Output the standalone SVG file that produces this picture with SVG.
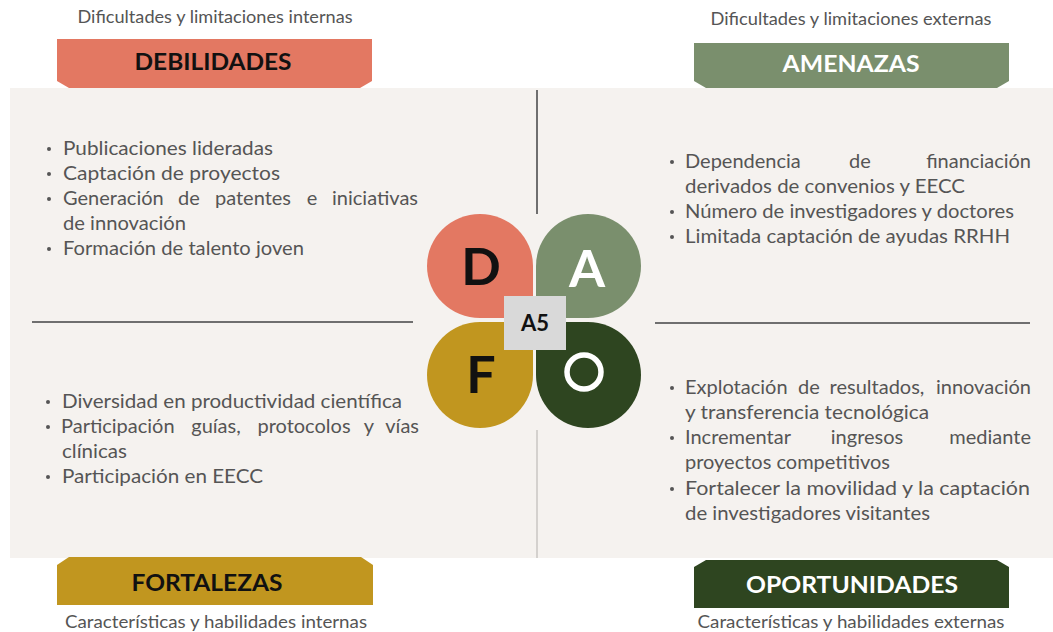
<svg xmlns="http://www.w3.org/2000/svg" width="1053" height="632" viewBox="0 0 1053 632">
<style>
.sub{font-family:Lato,"Liberation Sans",sans-serif;font-size:17px;fill:#555;text-anchor:middle}
.hdr{font-family:Lato,"Liberation Sans",sans-serif;font-size:23px;font-weight:700;text-anchor:middle}
.body{font-family:Lato,"Liberation Sans",sans-serif;font-size:20px;fill:#555}
.mid{text-anchor:middle}
.end{text-anchor:end}
.letter{font-family:Lato,"Liberation Sans",sans-serif;font-size:52px;font-weight:700;text-anchor:middle}
.div{stroke:#6f6f6f;stroke-width:2}
.dot{fill:#555}
</style>
<rect x="0" y="0" width="1053" height="632" fill="#ffffff"/>
<rect x="10" y="88" width="1043" height="470" fill="#f5f2ef"/>

<g id="connectors">
  <line class="div" x1="537" y1="90" x2="537" y2="214"/>
  <line x1="537" y1="430" x2="537" y2="558" stroke="#c9c6c3" stroke-width="1.5"/>
  <line class="div" x1="32" y1="322" x2="413" y2="322"/>
  <line class="div" x1="655" y1="323" x2="1030" y2="323"/>
</g>

<g id="debilidades">
  <text class="sub" x="215" y="23" textLength="275" lengthAdjust="spacingAndGlyphs">Dificultades y limitaciones internas</text>
  <path d="M57 39 L372 39 L372 81 L360 88 L69 88 L57 81 Z" fill="#e37862"/>
  <text class="hdr" x="213" y="70" fill="#111" textLength="157" lengthAdjust="spacingAndGlyphs">DEBILIDADES</text>
  <circle class="dot" cx="49" cy="149" r="2"/>
  <text class="body" x="63" y="155" textLength="210" lengthAdjust="spacingAndGlyphs">Publicaciones lideradas</text>
  <circle class="dot" cx="49" cy="174" r="2"/>
  <text class="body" x="63" y="180" textLength="217" lengthAdjust="spacingAndGlyphs">Captación de proyectos</text>
  <circle class="dot" cx="49" cy="199" r="2"/>
  <text class="body" x="63" y="205">Generación</text>
  <text class="body mid" x="189" y="205">de</text>
  <text class="body mid" x="253" y="205">patentes</text>
  <text class="body mid" x="312" y="205">e</text>
  <text class="body end" x="418" y="205">iniciativas</text>
  <text class="body" x="63" y="230" textLength="123" lengthAdjust="spacingAndGlyphs">de innovación</text>
  <circle class="dot" cx="49" cy="249" r="2"/>
  <text class="body" x="63" y="255" textLength="241" lengthAdjust="spacingAndGlyphs">Formación de talento joven</text>
</g>

<g id="amenazas">
  <text class="sub" x="851" y="25" textLength="281" lengthAdjust="spacingAndGlyphs">Dificultades y limitaciones externas</text>
  <path d="M694 43 L1009 43 L1009 81 L997 88 L706 88 L694 81 Z" fill="#7a8f6d"/>
  <text class="hdr" x="851" y="72" fill="#ffffff" textLength="137" lengthAdjust="spacingAndGlyphs">AMENAZAS</text>
  <circle class="dot" cx="672" cy="162" r="2"/>
  <text class="body" x="685" y="168">Dependencia</text>
  <text class="body mid" x="860" y="168">de</text>
  <text class="body end" x="1031" y="168">financiación</text>
  <text class="body" x="685" y="193" textLength="280" lengthAdjust="spacingAndGlyphs">derivados de convenios y EECC</text>
  <circle class="dot" cx="672" cy="212" r="2"/>
  <text class="body" x="685" y="218" textLength="329" lengthAdjust="spacingAndGlyphs">Número de investigadores y doctores</text>
  <circle class="dot" cx="672" cy="237" r="2"/>
  <text class="body" x="685" y="243" textLength="325" lengthAdjust="spacingAndGlyphs">Limitada captación de ayudas RRHH</text>
</g>

<g id="fortalezas">
  <path d="M57 565 L69 557 L361 557 L373 565 L373 605 L57 605 Z" fill="#c1961f"/>
  <text class="hdr" x="207" y="591" fill="#111" textLength="151" lengthAdjust="spacingAndGlyphs">FORTALEZAS</text>
  <text class="sub" x="216" y="628" textLength="302" lengthAdjust="spacingAndGlyphs">Características y habilidades internas</text>
  <circle class="dot" cx="48" cy="402" r="2"/>
  <text class="body" x="62" y="408" textLength="340" lengthAdjust="spacingAndGlyphs">Diversidad en productividad científica</text>
  <circle class="dot" cx="48" cy="427" r="2"/>
  <text class="body" x="61" y="433">Participación</text>
  <text class="body mid" x="216" y="433">guías,</text>
  <text class="body mid" x="304" y="433">protocolos</text>
  <text class="body mid" x="369" y="433">y</text>
  <text class="body end" x="419" y="433">vías</text>
  <text class="body" x="62" y="458" textLength="65" lengthAdjust="spacingAndGlyphs">clínicas</text>
  <circle class="dot" cx="48" cy="477" r="2"/>
  <text class="body" x="62" y="483" textLength="201" lengthAdjust="spacingAndGlyphs">Participación en EECC</text>
</g>

<g id="oportunidades">
  <path d="M694 567 L706 560 L997 560 L1009 567 L1009 608 L694 608 Z" fill="#2e4520"/>
  <text class="hdr" x="852" y="593" fill="#ffffff" textLength="212" lengthAdjust="spacingAndGlyphs">OPORTUNIDADES</text>
  <text class="sub" x="851" y="628" textLength="307" lengthAdjust="spacingAndGlyphs">Características y habilidades externas</text>
  <circle class="dot" cx="672" cy="388" r="2"/>
  <text class="body" x="685" y="394">Explotación</text>
  <text class="body mid" x="809" y="394">de</text>
  <text class="body mid" x="877" y="394">resultados,</text>
  <text class="body end" x="1031" y="394">innovación</text>
  <text class="body" x="685" y="419" textLength="244" lengthAdjust="spacingAndGlyphs">y transferencia tecnológica</text>
  <circle class="dot" cx="672" cy="438" r="2"/>
  <text class="body" x="685" y="444">Incrementar</text>
  <text class="body mid" x="867" y="444">ingresos</text>
  <text class="body end" x="1031" y="444">mediante</text>
  <text class="body" x="685" y="469" textLength="205" lengthAdjust="spacingAndGlyphs">proyectos competitivos</text>
  <circle class="dot" cx="672" cy="489" r="2"/>
  <text class="body" x="685" y="495" textLength="345" lengthAdjust="spacingAndGlyphs">Fortalecer la movilidad y la captación</text>
  <text class="body" x="685" y="520" textLength="245" lengthAdjust="spacingAndGlyphs">de investigadores visitantes</text>
</g>

<g id="petal-d">
  <path d="M533 318 L480 318 A53 52 0 0 1 427 266 A53 52 0 0 1 480 214 A53 52 0 0 1 533 266 Z" fill="#e37862"/>
  <text class="letter" x="481" y="285" fill="#111">D</text>
</g>
<g id="petal-a">
  <path d="M536 318 L536 266 A52 52 0 0 1 588 214 A53 52 0 0 1 641 266 A53 52 0 0 1 588 318 Z" fill="#7a8f6d"/>
  <text class="letter" x="587" y="287" fill="#ffffff">A</text>
</g>
<g id="petal-f">
  <path d="M533 322 L533 375 A53 53 0 0 1 480 428 A53 53 0 0 1 427 375 A53 53 0 0 1 480 322 Z" fill="#c1961f"/>
  <text class="letter" x="481" y="393" fill="#111">F</text>
</g>
<g id="petal-o">
  <path d="M536 322 L588 322 A53 53 0 0 1 641 375 A53 53 0 0 1 588 428 A52 53 0 0 1 536 375 Z" fill="#2e4520"/>
  <circle cx="584" cy="372" r="17" fill="none" stroke="#ffffff" stroke-width="5.5"/>
</g>
<g id="a5">
  <rect x="504" y="296" width="62" height="54" fill="#d9d9d9"/>
  <text x="535" y="331" font-family="Lato,'Liberation Sans',sans-serif" font-size="22" font-weight="700" text-anchor="middle" fill="#111">A5</text>
</g>
</svg>
